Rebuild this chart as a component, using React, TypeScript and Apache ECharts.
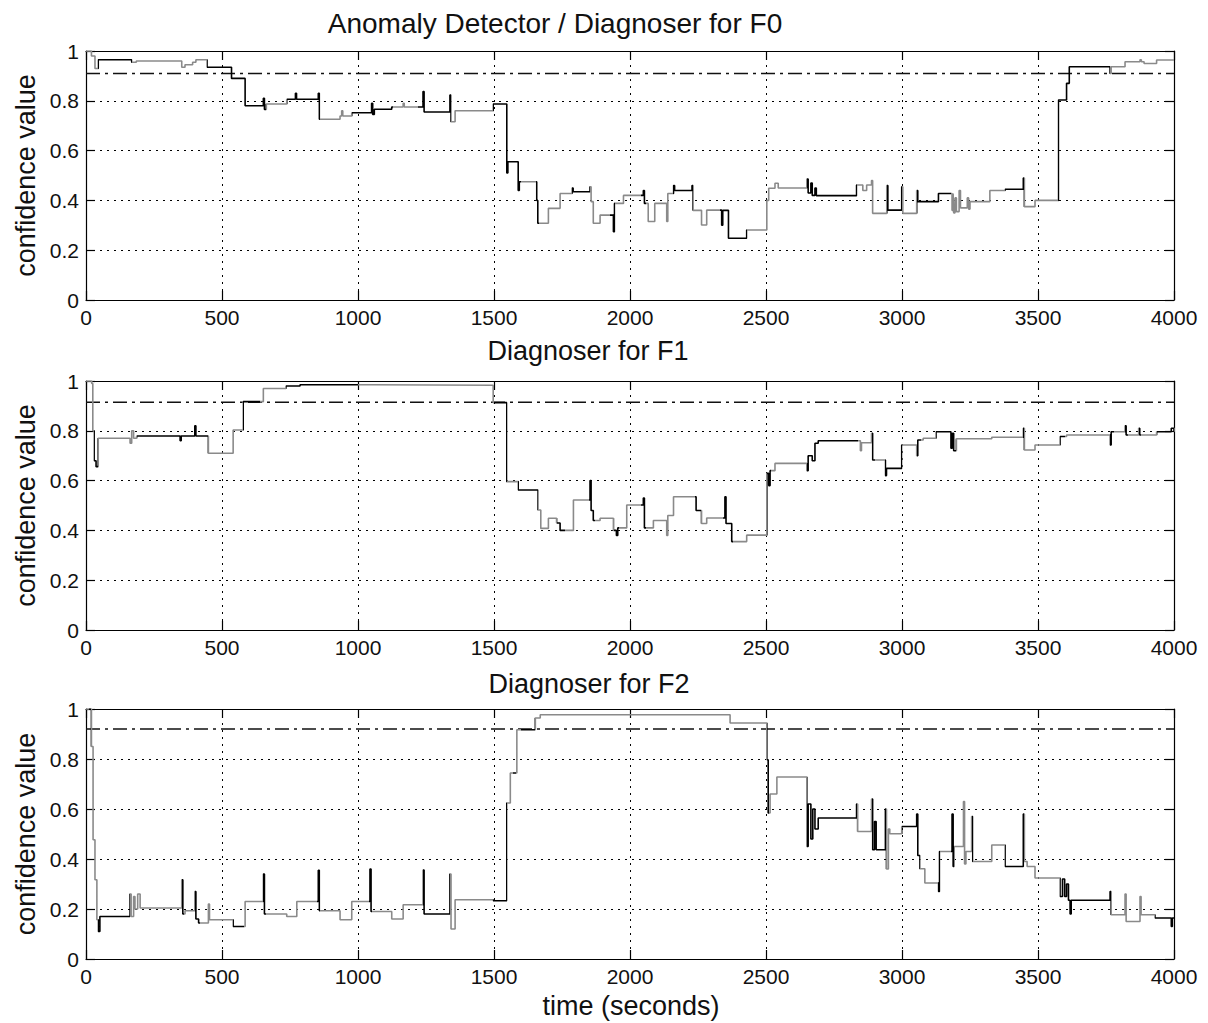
import React, { useEffect, useRef } from "react";
import * as echarts from "echarts";

// ---- data (time in seconds, confidence value) ----
const xTicks = { min: 0, max: 4000, interval: 500 };
const yTicks = { min: 0, max: 1, interval: 0.2 };

const titles = ["Anomaly Detector / Diagnoser for F0", "Diagnoser for F1", "Diagnoser for F2"];
const yLabel = "confidence value";
const xLabel = "time (seconds)";

const thresholds = [0.91, 0.915, 0.92];

const f0: [number, number][] = [
  [0, 1.0], [20, 0.98], [33, 0.93], [45, 0.965], [168, 0.955], [185, 0.96], [352, 0.935], [364, 0.945],
  [392, 0.955], [404, 0.965], [445, 0.935], [535, 0.89], [585, 0.78], [652, 0.81], [656, 0.765],
  [663, 0.787], [738, 0.806], [770, 0.83], [774, 0.806], [854, 0.83], [858, 0.726], [934, 0.739],
  [940, 0.76], [944, 0.739], [977, 0.752], [1050, 0.79], [1054, 0.745], [1060, 0.766], [1124, 0.775],
  [1166, 0.79], [1170, 0.775], [1239, 0.837], [1243, 0.755], [1338, 0.823], [1342, 0.716], [1357, 0.76],
  [1497, 0.787], [1547, 0.51], [1551, 0.555], [1589, 0.44], [1593, 0.475], [1657, 0.4], [1661, 0.308],
  [1700, 0.368], [1743, 0.428], [1787, 0.45], [1791, 0.435], [1853, 0.455], [1857, 0.395], [1865, 0.308],
  [1890, 0.341], [1939, 0.274], [1943, 0.388], [1976, 0.42], [2049, 0.44], [2053, 0.388], [2067, 0.315],
  [2091, 0.388], [2135, 0.315], [2139, 0.428], [2160, 0.46], [2164, 0.44], [2228, 0.46], [2232, 0.36],
  [2263, 0.301], [2282, 0.361], [2337, 0.3], [2341, 0.36], [2362, 0.248], [2429, 0.281], [2503, 0.4],
  [2510, 0.449], [2533, 0.469], [2545, 0.45], [2650, 0.486], [2655, 0.43], [2665, 0.47], [2670, 0.42],
  [2680, 0.45], [2685, 0.419], [2833, 0.462], [2856, 0.44], [2870, 0.462], [2888, 0.48], [2892, 0.348],
  [2944, 0.46], [2948, 0.361], [2999, 0.455], [3003, 0.348], [3054, 0.44], [3058, 0.395], [3134, 0.428],
  [3184, 0.36], [3188, 0.428], [3190, 0.35], [3195, 0.41], [3200, 0.355], [3210, 0.44], [3215, 0.37],
  [3240, 0.41], [3245, 0.365], [3250, 0.395], [3323, 0.44], [3379, 0.445], [3446, 0.49], [3450, 0.375],
  [3489, 0.4], [3575, 0.803], [3605, 0.87], [3615, 0.937], [3765, 0.91], [3769, 0.937], [3820, 0.957],
  [3875, 0.965], [3880, 0.957], [3890, 0.95], [3936, 0.964], [4000, 0.964],
];

const f1: [number, number][] = [
  [0, 1.0], [21, 0.99], [25, 0.8], [30, 0.68], [37, 0.656], [45, 0.77], [162, 0.75], [168, 0.8],
  [175, 0.77], [186, 0.779], [346, 0.76], [350, 0.779], [400, 0.82], [404, 0.779], [450, 0.71],
  [541, 0.803], [578, 0.917], [652, 0.97], [735, 0.98], [787, 0.985], [1050, 0.983], [1497, 0.913],
  [1547, 0.596], [1589, 0.562], [1662, 0.482], [1672, 0.408], [1700, 0.449], [1730, 0.43], [1743, 0.4],
  [1792, 0.522], [1853, 0.6], [1857, 0.48], [1865, 0.44], [1890, 0.449], [1939, 0.4], [1950, 0.38],
  [1955, 0.41], [1988, 0.502], [2049, 0.53], [2053, 0.41], [2086, 0.44], [2135, 0.38], [2139, 0.46],
  [2160, 0.535], [2243, 0.48], [2263, 0.428], [2282, 0.45], [2349, 0.535], [2353, 0.428], [2374, 0.355],
  [2429, 0.381], [2503, 0.629], [2510, 0.58], [2515, 0.64], [2533, 0.669], [2650, 0.64], [2655, 0.7],
  [2670, 0.68], [2680, 0.75], [2692, 0.76], [2847, 0.72], [2851, 0.752], [2888, 0.79], [2892, 0.683],
  [2939, 0.62], [2943, 0.649], [2999, 0.743], [3054, 0.7], [3058, 0.763], [3078, 0.77], [3125, 0.796],
  [3180, 0.73], [3185, 0.79], [3190, 0.72], [3200, 0.768], [3262, 0.768], [3330, 0.774], [3446, 0.81],
  [3450, 0.723], [3489, 0.743], [3581, 0.777], [3605, 0.783], [3765, 0.743], [3769, 0.796], [3820, 0.82],
  [3824, 0.783], [3870, 0.81], [3874, 0.783], [3936, 0.796], [3990, 0.81], [4000, 0.796],
];

const f2: [number, number][] = [
  [0, 1.0], [10, 1.0], [20, 0.85], [26, 0.477], [33, 0.317], [40, 0.157], [45, 0.11], [51, 0.17],
  [162, 0.26], [166, 0.17], [175, 0.25], [180, 0.2], [190, 0.26], [199, 0.204], [352, 0.317], [356, 0.18],
  [364, 0.193], [400, 0.27], [404, 0.16], [414, 0.144], [450, 0.22], [454, 0.157], [541, 0.13],
  [585, 0.23], [652, 0.34], [656, 0.18], [738, 0.17], [775, 0.23], [854, 0.355], [858, 0.193],
  [934, 0.157], [977, 0.23], [1044, 0.36], [1048, 0.19], [1124, 0.16], [1166, 0.217], [1239, 0.356],
  [1243, 0.18], [1338, 0.34], [1342, 0.12], [1357, 0.237], [1497, 0.233], [1547, 0.624], [1560, 0.744],
  [1584, 0.917], [1652, 0.964], [1670, 0.977], [2368, 0.944], [2503, 0.797], [2508, 0.584], [2515, 0.66],
  [2540, 0.728], [2650, 0.45], [2655, 0.62], [2665, 0.48], [2672, 0.6], [2680, 0.52], [2692, 0.564],
  [2833, 0.62], [2837, 0.51], [2888, 0.64], [2892, 0.437], [2899, 0.55], [2905, 0.437], [2939, 0.6],
  [2943, 0.36], [2950, 0.52], [2955, 0.501], [2999, 0.53], [3054, 0.58], [3058, 0.414], [3066, 0.361],
  [3084, 0.304], [3134, 0.27], [3138, 0.43], [3184, 0.58], [3188, 0.37], [3192, 0.45], [3226, 0.63],
  [3230, 0.38], [3235, 0.43], [3256, 0.57], [3260, 0.39], [3330, 0.456], [3379, 0.37], [3446, 0.58],
  [3450, 0.39], [3460, 0.37], [3489, 0.324], [3581, 0.25], [3590, 0.32], [3598, 0.25], [3605, 0.3],
  [3612, 0.235], [3618, 0.18], [3622, 0.235], [3765, 0.27], [3769, 0.177], [3820, 0.26], [3824, 0.15],
  [3875, 0.25], [3879, 0.177], [3930, 0.164], [3990, 0.13], [3994, 0.164], [4000, 0.164],
];

// time ranges where the trace is drawn in black (elsewhere grey)
const f0Black: [number, number][] = [
  [45, 168], [445, 660], [738, 860], [977, 1130], [1220, 1340], [1497, 1600], [1655, 1665], [1787, 1853],
  [1925, 1945], [2040, 2060], [2160, 2230], [2330, 2430], [2650, 2833], [2944, 3000], [3054, 3180],
  [3379, 3450], [3575, 3765],
];
const f1Black: [number, number][] = [
  [30, 45], [186, 450], [578, 640], [735, 1000], [1500, 1547], [1589, 1660], [1730, 1760], [1850, 1870],
  [1940, 1960], [2040, 2060], [2240, 2260], [2340, 2380], [2503, 2520], [2650, 2840], [2888, 2900],
  [2939, 2999], [3054, 3070], [3125, 3200], [3446, 3450], [3581, 3600], [3765, 3780], [3820, 3830],
  [3870, 3880], [3936, 4000],
];
const f2Black: [number, number][] = [
  [10, 20], [45, 160], [352, 360], [400, 420], [540, 580], [650, 660], [850, 860], [1040, 1050],
  [1240, 1340], [1497, 1547], [1570, 1580], [1600, 1650], [2503, 2510], [2650, 2833], [2888, 2940],
  [2999, 3066], [3134, 3140], [3180, 3190], [3256, 3260], [3379, 3450], [3581, 3770], [3930, 4000],
];

const traces = [f0, f1, f2];
const blacks = [f0Black, f1Black, f2Black];

// ---- layout ----
const gridTops = [51, 381, 709];
const gridHeights = [249, 249, 250];
const GRID_LEFT = 86;
const GRID_WIDTH = 1088;
const FONT = "'Liberation Sans', Arial, Helvetica, sans-serif";

export default function App() {
  const ref = useRef<HTMLDivElement>(null);

  useEffect(() => {
    if (!ref.current) return;
    const chart = echarts.init(ref.current, undefined, { renderer: "svg" });

    const grid: any[] = [];
    const xAxis: any[] = [];
    const yAxis: any[] = [];
    const series: any[] = [];
    const visualMap: any[] = [];
    const graphic: any[] = [];

    const axisLine = { show: true, onZero: false, lineStyle: { color: "#000", width: 1.2 } };
    const axisTick = { show: true, inside: true, length: 9, lineStyle: { color: "#000", width: 1.2 } };
    const dotted = { show: true, lineStyle: { color: "#000", width: 1, type: [2, 5] } };
    const plain = (v: number) => String(Math.round(v * 1000) / 1000);

    for (let i = 0; i < 3; i++) {
      grid.push({ left: GRID_LEFT, top: gridTops[i], width: GRID_WIDTH, height: gridHeights[i], show: false });
      xAxis.push({
        gridIndex: i, type: "value", position: "bottom", ...xTicks,
        axisLine, axisTick,
        axisLabel: { fontSize: 21, color: "#111", margin: 7, fontFamily: FONT, formatter: plain },
        splitLine: dotted,
      });
      xAxis.push({
        gridIndex: i, type: "value", position: "top", ...xTicks,
        axisLine, axisTick, axisLabel: { show: false }, splitLine: { show: false },
      });
      yAxis.push({
        gridIndex: i, type: "value", position: "left", ...yTicks,
        axisLine, axisTick,
        axisLabel: { fontSize: 21, color: "#111", margin: 7, fontFamily: FONT, formatter: plain },
        splitLine: dotted,
      });
      yAxis.push({
        gridIndex: i, type: "value", position: "right", ...yTicks,
        axisLine, axisTick, axisLabel: { show: false }, splitLine: { show: false },
      });

      const mainIndex = series.length;
      series.push({
        type: "line",
        xAxisIndex: 2 * i,
        yAxisIndex: 2 * i,
        step: "end",
        showSymbol: false,
        symbol: "none",
        data: traces[i],
        lineStyle: { width: 1.6 },
        z: 3,
      });
      series.push({
        type: "line",
        xAxisIndex: 2 * i,
        yAxisIndex: 2 * i,
        showSymbol: false,
        symbol: "none",
        data: [[xTicks.min, thresholds[i]], [xTicks.max, thresholds[i]]],
        lineStyle: { color: "#111", width: 1.5, type: [14, 5, 3, 5] },
        z: 2,
      });
      visualMap.push({
        type: "piecewise",
        show: false,
        dimension: 0,
        seriesIndex: mainIndex,
        pieces: blacks[i].map(([a, b]) => ({ gte: a, lt: b, color: "#000" })),
        outOfRange: { color: "#8a8a8a" },
      });

      graphic.push({
        type: "text",
        x: 26,
        y: gridTops[i] + gridHeights[i] / 2,
        rotation: Math.PI / 2,
        style: {
          text: yLabel, fontSize: 27, fontFamily: FONT, fill: "#111",
          align: "center", verticalAlign: "middle",
        },
      });
    }

    graphic.push({
      type: "text", x: 555, y: 23,
      style: { text: titles[0], fontSize: 28, fontFamily: FONT, fill: "#111", align: "center", verticalAlign: "middle" },
    });
    graphic.push({
      type: "text", x: 588, y: 351,
      style: { text: titles[1], fontSize: 27, fontFamily: FONT, fill: "#111", align: "center", verticalAlign: "middle" },
    });
    graphic.push({
      type: "text", x: 589, y: 684,
      style: { text: titles[2], fontSize: 27, fontFamily: FONT, fill: "#111", align: "center", verticalAlign: "middle" },
    });
    graphic.push({
      type: "text", x: 631, y: 1006,
      style: { text: xLabel, fontSize: 27, fontFamily: FONT, fill: "#111", align: "center", verticalAlign: "middle" },
    });

    chart.setOption({
      animation: false,
      backgroundColor: "#fff",
      grid,
      xAxis,
      yAxis,
      series,
      visualMap,
      graphic,
    });

    return () => chart.dispose();
  }, []);

  return (
    <div
      ref={ref}
      style={{ position: "fixed", left: 0, top: 0, width: 1208, height: 1023, background: "#fff" }}
    />
  );
}
